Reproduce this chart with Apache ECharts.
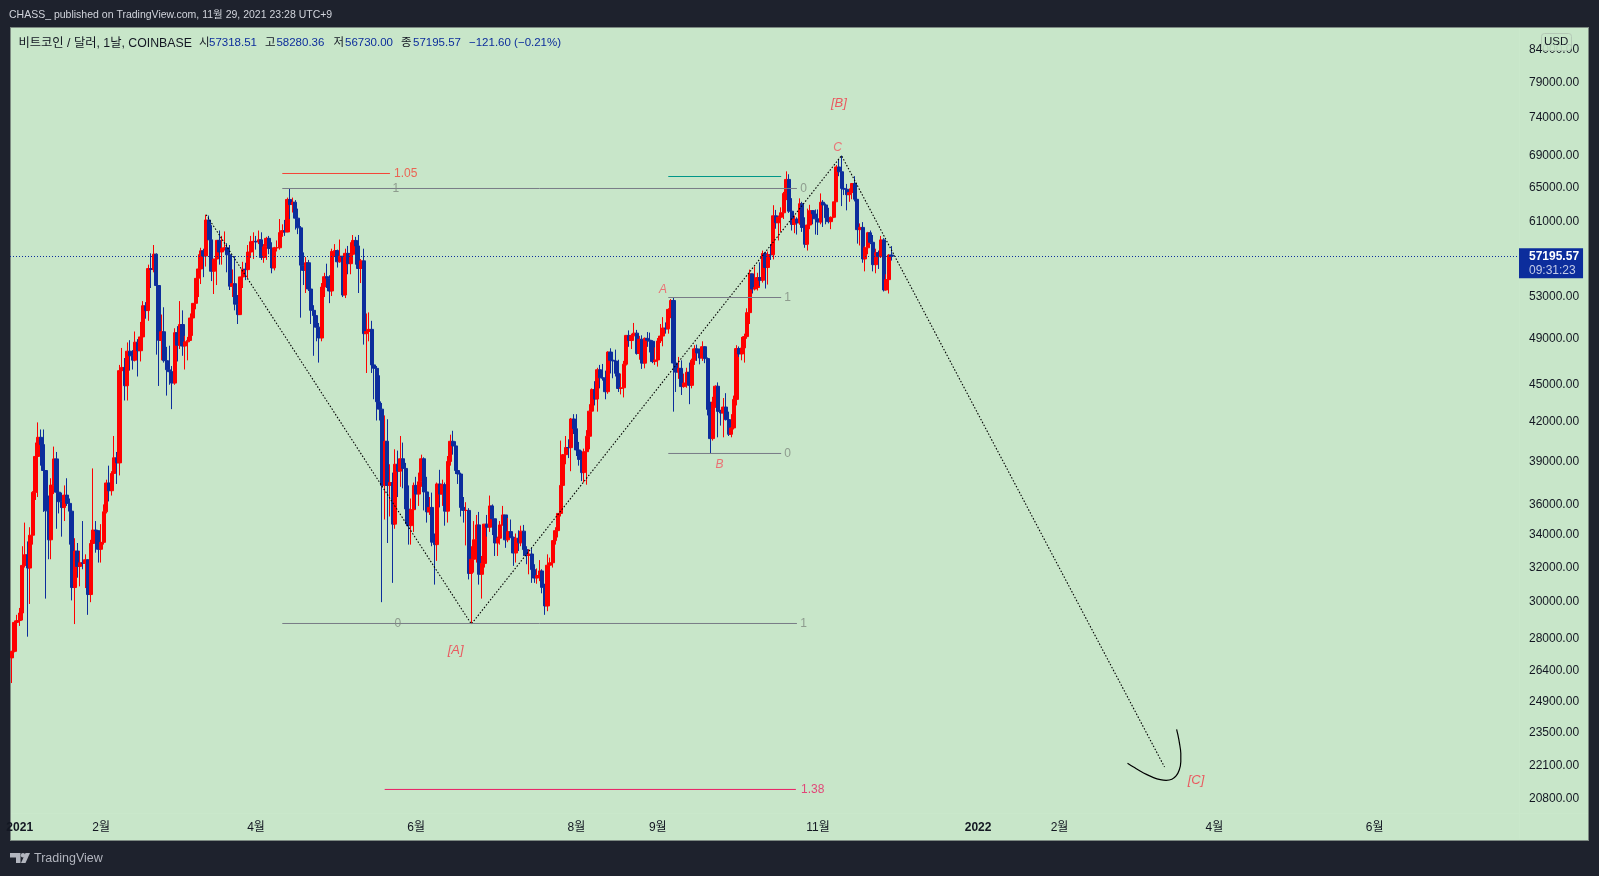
<!DOCTYPE html>
<html><head><meta charset="utf-8">
<style>
html,body{margin:0;padding:0;background:#1e222d;width:1599px;height:876px;overflow:hidden}
#pane{position:absolute;left:10px;top:27px;width:1577px;height:812px;background:#c8e6c9;border:1px solid #7d8a82}
#sepV{position:absolute;left:1519px;top:28px;width:1px;height:811px;background:#cae8cb}
#sepH{position:absolute;left:11px;top:813px;width:1577px;height:1px;background:#cae8cb}
#chart{position:absolute;left:0;top:0;width:1599px;height:876px}
</style>
<script src="https://cdn.jsdelivr.net/npm/echarts@6/dist/echarts.min.js"></script>
</head><body><div id="pane"></div><div id="sepV"></div><div id="sepH"></div><div id="chart"></div>
<script>
const firstBarDate = '2020-12-29';
const opens = [27040,27370,28890,
28990,29400,32130,32780,31970,33990,36820,39370,40800,40250,38350,35570,33700,37320,39190,36830,36180,35790,36630,36070,35550,30830,33000,32070,32290,32250,32470,30430,33470,34320,34270,
33110,33540,35510,37470,36930,38140,39270,38900,46200,46480,44920,47910,47500,47110,48720,47950,49200,52150,51680,55890,55790,57410,54150,48890,49680,47070,46280,46110,
45140,49590,48440,50350,48370,48750,48880,50970,52380,54880,55850,57770,57220,61190,58970,55610,56900,58910,57650,58030,58100,57350,54080,54340,52300,51290,55030,55820,55780,57640,58750,
58800,58730,58970,57060,58200,59130,58020,55960,58100,58100,59770,59990,59840,63580,62980,63250,61400,60300,56250,55700,56500,53800,51700,51200,50100,49100,54000,55050,54900,53600,
57700,57800,56600,57200,53200,57500,56400,57400,58900,58300,55900,56700,49500,49700,49900,46700,46400,43600,43000,37300,40500,37300,37500,34700,38800,38300,39200,38500,35700,34600,35650,
37300,36700,37550,39200,36850,35500,35800,33550,33400,37400,36700,37350,35550,39000,40500,40150,38350,38100,35800,35600,35600,31650,32500,33700,34650,31600,32250,34700,34500,35900,
35050,33500,33800,34650,35300,33700,34220,33860,32880,33800,33510,34250,33090,32730,32820,31880,31380,31530,31800,30840,29790,32140,32290,33650,34280,35400,37300,39500,40030,40020,42220,
41460,39850,39150,38200,39720,40880,42840,44610,43820,46280,45590,45550,44420,47830,47110,47040,45970,44690,44750,46760,49340,48870,49300,49550,47700,48990,46850,49070,48900,48800,46990,
47130,48830,49280,50030,49940,51790,52660,46860,46070,46400,44850,45150,46060,44950,47110,48120,47750,47300,48310,47250,42980,40700,43580,44880,42820,42690,43170,42170,41030,41520,
43790,48140,47660,48200,49230,51480,55340,53800,53950,54960,54680,57480,56000,57370,57350,61670,60880,61500,62020,64280,66000,62200,60690,61300,60850,63080,60340,58480,60620,62270,61890,
61320,60950,63250,62930,61450,61000,61500,63300,67550,66950,64900,64800,64150,64400,65500,63600,60100,60350,56900,58100,59750,58700,56300,57570,57150,58960,53700,54750,57318.51];
const closes = [27370,28890,28990,
29400,32130,32780,31970,33990,36820,39370,40800,40250,38350,35570,33700,37320,39190,36830,36180,35790,36630,36070,35550,30830,33000,32070,32290,32250,32470,30430,33470,34320,34270,33110,
33540,35510,37470,36930,38140,39270,38900,46200,46480,44920,47910,47500,47110,48720,47950,49200,52150,51680,55890,55790,57410,54150,48890,49680,47070,46280,46110,45140,
49590,48440,50350,48370,48750,48880,50970,52380,54880,55850,57770,57220,61190,58970,55610,56900,58910,57650,58030,58100,57350,54080,54340,52300,51290,55030,55820,55780,57640,58750,58800,
58730,58970,57060,58200,59130,58020,55960,58100,58100,59770,59990,59840,63580,62980,63250,61400,60300,56250,55700,56500,53800,51700,51200,50100,49100,54000,55050,54900,53600,57700,
57800,56600,57200,53200,57500,56400,57400,58900,58300,55900,56700,49500,49700,49900,46700,46400,43600,43000,37300,40500,37300,37500,34700,38800,38300,39200,38500,35700,34600,35650,37300,
36700,37550,39200,36850,35500,35800,33550,33400,37400,36700,37350,35550,39000,40500,40150,38350,38100,35800,35600,35600,31650,32500,33700,34650,31600,32250,34700,34500,35900,35050,
33500,33800,34650,35300,33700,34220,33860,32880,33800,33510,34250,33090,32730,32820,31880,31380,31530,31800,30840,29790,32140,32290,33650,34280,35400,37300,39500,40030,40020,42220,41460,
39850,39150,38200,39720,40880,42840,44610,43820,46280,45590,45550,44420,47830,47110,47040,45970,44690,44750,46760,49340,48870,49300,49550,47700,48990,46850,49070,48900,48800,46990,47130,
48830,49280,50030,49940,51790,52660,46860,46070,46400,44850,45150,46060,44950,47110,48120,47750,47300,48310,47250,42980,40700,43580,44880,42820,42690,43170,42170,41030,41520,43790,
48140,47660,48200,49230,51480,55340,53800,53950,54960,54680,57480,56000,57370,57350,61670,60880,61500,62020,64280,66000,62200,60690,61300,60850,63080,60340,58480,60620,62270,61890,61320,
60950,63250,62930,61450,61000,61500,63300,67550,66950,64900,64800,64150,64400,65500,63600,60100,60350,56900,58100,59750,58700,56300,57570,57150,58960,53700,54750,57318.51,57195.57];
const highs = [27400,28990,29300,
29680,33300,34800,33600,34500,36900,40400,41950,41400,41400,38300,36600,37800,40100,39700,37900,36800,37300,37800,36400,35600,33800,33500,33000,34900,32800,32500,33700,38500,34900,34300,
34700,36000,37700,38700,38300,40900,39700,46700,48200,47300,48700,48900,48000,49700,49000,50600,52600,52500,56300,57500,58400,57500,54200,51300,52000,48300,48400,46600,
50000,50200,52600,51700,49300,49200,51400,52400,54900,57400,58100,58000,61800,61700,60600,56900,58900,60000,59400,59900,58600,58400,55800,57200,53200,55000,56600,56500,58400,59400,59800,
59400,60000,59800,58500,59300,59400,58700,58200,58900,61300,60700,61200,63800,64900,63800,63500,62500,60500,57600,57100,56800,55500,52200,51200,50500,54400,55450,56400,55200,58000,
58500,57900,59000,57200,58000,58300,58700,59500,59300,59500,56900,58000,51400,51500,50700,49800,46600,45800,43500,42500,42200,38800,38200,39900,39800,40900,40400,38900,37300,36400,37500,
37900,38200,39500,39300,37900,36500,36800,34100,37500,38400,37700,37500,39400,41000,41300,40500,39500,38200,36500,36150,35750,33300,34900,35300,35500,32700,34700,35300,36600,36000,
35050,33900,34900,35900,35300,35100,35000,33900,34100,34300,34600,34650,33300,33100,33200,32200,31950,32450,31900,31050,32800,32600,33650,34500,35400,40550,39550,40900,40650,42300,42600,
42600,40450,39800,39950,41350,43400,44700,45300,46450,46700,46780,46200,47900,48170,47400,48050,47150,45950,47050,49380,49800,49500,50500,49850,49300,49350,49150,49650,49600,48900,48250,
49100,50400,51050,50550,51900,52800,52950,47350,47400,47100,45950,46450,46900,47250,48450,48500,48150,48800,48350,47350,43600,44000,44950,45200,42950,43900,44300,42800,42600,44100,
48450,48330,49200,49500,51900,55780,55300,56100,55450,56550,57800,57680,57700,58500,62900,62350,61700,62650,64480,67000,66640,63730,61700,61500,63710,63300,61500,62500,62950,62300,62400,
62400,64300,63500,63100,62600,61600,63300,67800,68500,69000,65550,65450,64900,65550,66400,63450,60800,60950,58300,59850,60000,59500,58000,57800,59400,59150,55300,57400,58280.36];
const lows = [25800,27320,27900,
28700,29000,32000,28130,29900,33400,36300,36500,38700,35500,30200,32500,32500,36700,34400,35400,33900,34900,35900,33400,30100,28800,31400,30900,31900,30800,29300,30000,31900,32900,32300,
32300,33400,35400,36200,36600,38100,37400,38000,45000,43700,43700,46200,46300,47000,45700,47000,48900,50900,50700,53900,55500,47600,44900,47100,46900,44100,45000,43000,
45000,47000,48100,47500,46300,47100,48900,49300,51800,53000,54300,55000,56100,59000,54600,53300,54200,56300,56300,57800,55500,53700,53000,51700,50400,51400,53900,54700,54900,57000,56900,
57900,58500,56800,56500,56800,57400,55400,55700,57700,57900,59300,59400,59800,61300,62050,60100,59600,51000,54200,53400,53600,50400,47500,48800,46900,48800,53000,53900,52400,53100,
57100,56000,56500,53000,52900,55300,55300,56900,56300,53400,54400,48500,46000,48800,46000,43800,42100,42100,30000,35000,33500,35200,31100,34400,36500,37200,37100,34700,33400,33400,34200,
35700,35900,37200,35600,34800,35300,33300,31000,32400,35800,35900,34600,34800,38700,39500,38100,37400,35200,34800,33350,31300,28800,31700,32300,31000,30200,32000,33900,34200,34000,
32700,32700,33400,34600,33200,33550,33800,32100,32300,33000,33300,32700,32200,31600,31100,31100,31050,31200,30500,29300,29500,31700,32000,33400,33850,35200,36400,38800,39250,38300,41050,
39400,38700,37600,37500,37350,39900,42500,43300,42800,44700,45350,43800,44250,45960,45550,45700,44400,44200,43950,46650,48300,48100,49050,47600,47150,46350,46400,48300,47800,46850,46700,
46550,48650,48350,49500,49500,50950,42800,44400,45500,44150,44750,44750,43400,44700,46700,47050,46750,47050,46850,42500,39600,40550,43100,40800,41700,40800,42100,40900,40800,41400,
43300,47400,47100,46900,49030,50400,53350,53650,53650,54100,54450,53850,54250,56800,56850,60200,58900,59850,61300,63500,62000,60000,59700,59550,60650,59850,58100,57800,60150,60700,59550,
59500,60700,60400,60700,60800,60150,61400,63300,66400,62800,64100,62300,63300,63600,63350,58550,58350,56500,55600,57400,58500,55600,55400,55850,57000,53550,53650,53350,56730];

const lastPrice = 57195.57;
const countdown = '09:31:23';
const priceTicks = [84000,79000,74000,69000,65000,61000,53000,49000,45000,42000,39000,36000,34000,32000,30000,28000,26400,24900,23500,22100,20800];
const monthTickDates = ['2021-01-01','2021-02-01','2021-04-01','2021-06-01','2021-08-01','2021-09-01','2021-11-01','2022-01-01','2022-02-01','2022-04-01','2022-06-01'];
const monthTickLabels = ['2021','2월','4월','6월','8월','9월','11월','2022','2월','4월','6월'];

// Drawings on the chart: [days since 2021-01-01, price]
const waveDotted = [[71,61800],[172,28800],[313,69000],[436,22060]];
const arcCurve = [[421.9,22212],[424.2,22062],[426.7,21897],[429.3,21748],[431.8,21627],[434.4,21546],[436.6,21520],[438.8,21560],[440.4,21694],[441.6,21938],[442.2,22282],[442.2,22631],[441.7,23057],[441.1,23418],[440.6,23667]];
const fibUpperLine = [[100,64892],[296,64892]];
const fibLowerLine = [[100,28831],[296,28831]];
const fib105Line = [[100,66733],[141,66733]];
const fib138Line = [[139,21156],[295.6,21156]];
const smallTopLine = [[247,52954],[290,52954]];
const smallBottomLine = [[247,39588],[290,39588]];
const smallGreenLine = [[247,66360],[290,66360]];
// text, day, price
const fibLabels = [['1',143.2,64892],['0',298.5,64892],['0',144,28831],['1',298.5,28831],['1',292.4,52954],['0',292.4,39588]];
const fibRedLabels = [['1.05',147,66733,'#f44336'],['1.38',302,21156,'#e91e63']];
const waveLabels = [['[B]',312,76100],['[A]',166,27430],['[C]',448,21500]];
const smallWaveLabels = [['C',311.5,70000],['A',245,53700],['B',266.5,38750]];

const headerParts = [
 ['비트코인 / 달러, 1날, COINBASE',18.4,'#131722',12.3],['시',199,'#131722',11.5],['57318.51',209,'#0c2d9c',11.5],
 ['고',265,'#131722',11.5],['58280.36',276.4,'#0c2d9c',11.5],['저',333.5,'#131722',11.5],['56730.00',345,'#0c2d9c',11.5],
 ['종',401,'#131722',11.5],['57195.57',413,'#0c2d9c',11.5],['−121.60 (−0.21%)',469,'#0c2d9c',11.5]];

const DAY = 86400000;
const FONT = "'Liberation Sans','Noto Sans CJK KR',sans-serif";
const parseD = s => { const p = s.split('-').map(Number); return Date.UTC(p[0],p[1]-1,p[2]); };
const JAN1 = parseD('2021-01-01');
const dayOf = s => (parseD(s)-JAN1)/DAY;
const start = dayOf(firstBarDate);
const bars = opens.map((o,i)=>[start+i,o,closes[i],lows[i],highs[i]]);
const monthTickDays = monthTickDates.map(dayOf);

function lineSeries(pts,color,dash,smooth,width){
  return {type:'line',data:pts,symbol:'none',silent:true,smooth:smooth||false,z:5,clip:true,
    lineStyle:{color:color,width:width||1,type:dash||'solid'},animation:false};
}
function textSeries(items,color,size,italic){
  return {type:'scatter',symbolSize:1,silent:true,z:6,itemStyle:{color:'rgba(0,0,0,0)'},
    data:items.map(a=>({name:a[0],value:[a[1],a[2]],label:{color:a[3]||color}})),
    label:{show:true,position:'inside',formatter:p=>p.name,fontSize:size,fontStyle:italic?'italic':'normal',fontFamily:FONT,color:color}};
}
const titles = [
 {text:'CHASS_ published on TradingView.com, 11월 29, 2021 23:28 UTC+9',left:4,top:5,textStyle:{color:'#d1d4dc',fontSize:10.5,fontWeight:'normal',fontFamily:FONT}},
 {text:'USD',left:1541,top:33,padding:[3,3],backgroundColor:'rgba(200,230,201,0.9)',borderColor:'#b4c9b6',borderWidth:1,borderRadius:3,textStyle:{color:'#131722',fontSize:11.5,fontWeight:'normal',fontFamily:FONT}},
 {text:'TradingView',left:29,top:847,textStyle:{color:'#b2b5be',fontSize:12.5,fontWeight:'normal',fontFamily:FONT}}
].concat(headerParts.map(h=>({text:h[0],left:h[1]-5,top:32,textStyle:{color:h[2],fontSize:h[3],fontWeight:'normal',fontFamily:FONT}})));

const chart = echarts.init(document.getElementById('chart'),null,{renderer:'canvas'});
chart.setOption({
  backgroundColor:'transparent',animation:false,
  title:titles,
  graphic:[
    {type:'polygon',silent:true,shape:{points:[[10,853],[20.5,853],[20.5,863],[16,863],[16,857.5],[10,857.5]]},style:{fill:'#b2b5be'}},
    {type:'circle',silent:true,shape:{cx:23,cy:855.2,r:2.2},style:{fill:'#b2b5be'}},
    {type:'polygon',silent:true,shape:{points:[[25.5,853],[30,853],[25.5,863],[21,863]]},style:{fill:'#b2b5be'}}
  ],
  grid:{left:10,right:80,top:27,bottom:63,containLabel:false},
  xAxis:{type:'value',min:-3.7,max:571,scale:true,
    axisLine:{show:false},axisTick:{show:false},splitLine:{show:false},
    axisLabel:{customValues:monthTickDays,color:'#131722',fontSize:12,fontFamily:FONT,margin:9,hideOverlap:false,
      formatter:(v)=>{const lab=monthTickLabels[monthTickDays.indexOf(v)];return /^20/.test(lab)?'{y|'+lab+'}':lab;},
      rich:{y:{fontWeight:'bold',color:'#131722',fontSize:12,fontFamily:FONT}}}},
  yAxis:{type:'log',logBase:10,position:'right',min:20247,max:87700,
    axisLine:{show:false},axisTick:{show:false},splitLine:{show:false},minorSplitLine:{show:false},
    axisLabel:{customValues:priceTicks,color:'#131722',fontSize:12,fontFamily:FONT,margin:10,
      formatter:v=>Number(v).toFixed(2)}},
  series:[
   {type:'candlestick',data:bars,barWidth:3.6,z:3,clip:true,
    itemStyle:{color:'#ff0000',color0:'#0c2d9c',borderColor:'#ff0000',borderColor0:'#0c2d9c',borderWidth:1},
    markLine:{silent:true,symbol:'none',animation:false,data:[{yAxis:lastPrice}],
      lineStyle:{color:'#0c2d9c',width:1,type:[1,2]},
      label:{show:true,position:'end',distance:0,offset:[0,7],formatter:'{a|57195.57}\n{b|'+countdown+'}',backgroundColor:'#0c2d9c',padding:[1,4,1,10],
        rich:{a:{color:'#fff',fontWeight:'bold',fontSize:12,fontFamily:FONT,lineHeight:14},b:{color:'#c3cbe8',fontSize:12,fontFamily:FONT,lineHeight:14}}}}},
   lineSeries(waveDotted,'#000000',[1.5,1.8],false,1.1),
   lineSeries(arcCurve,'#000000','solid',0.3,1.2),
   lineSeries(fibUpperLine,'#787b86'),lineSeries(fibLowerLine,'#787b86'),
   lineSeries(fib105Line,'#f44336'),lineSeries(fib138Line,'#e91e63'),
   lineSeries(smallTopLine,'#787b86'),lineSeries(smallBottomLine,'#787b86'),lineSeries(smallGreenLine,'#009688'),
   textSeries(fibLabels,'#7f8a80',12,false),
   textSeries(fibRedLabels,'#f44336',12,false),
   textSeries(waveLabels,'#f23645',13,true),
   textSeries(smallWaveLabels,'#f2555f',12,true)
  ]
});
</script></body></html>
